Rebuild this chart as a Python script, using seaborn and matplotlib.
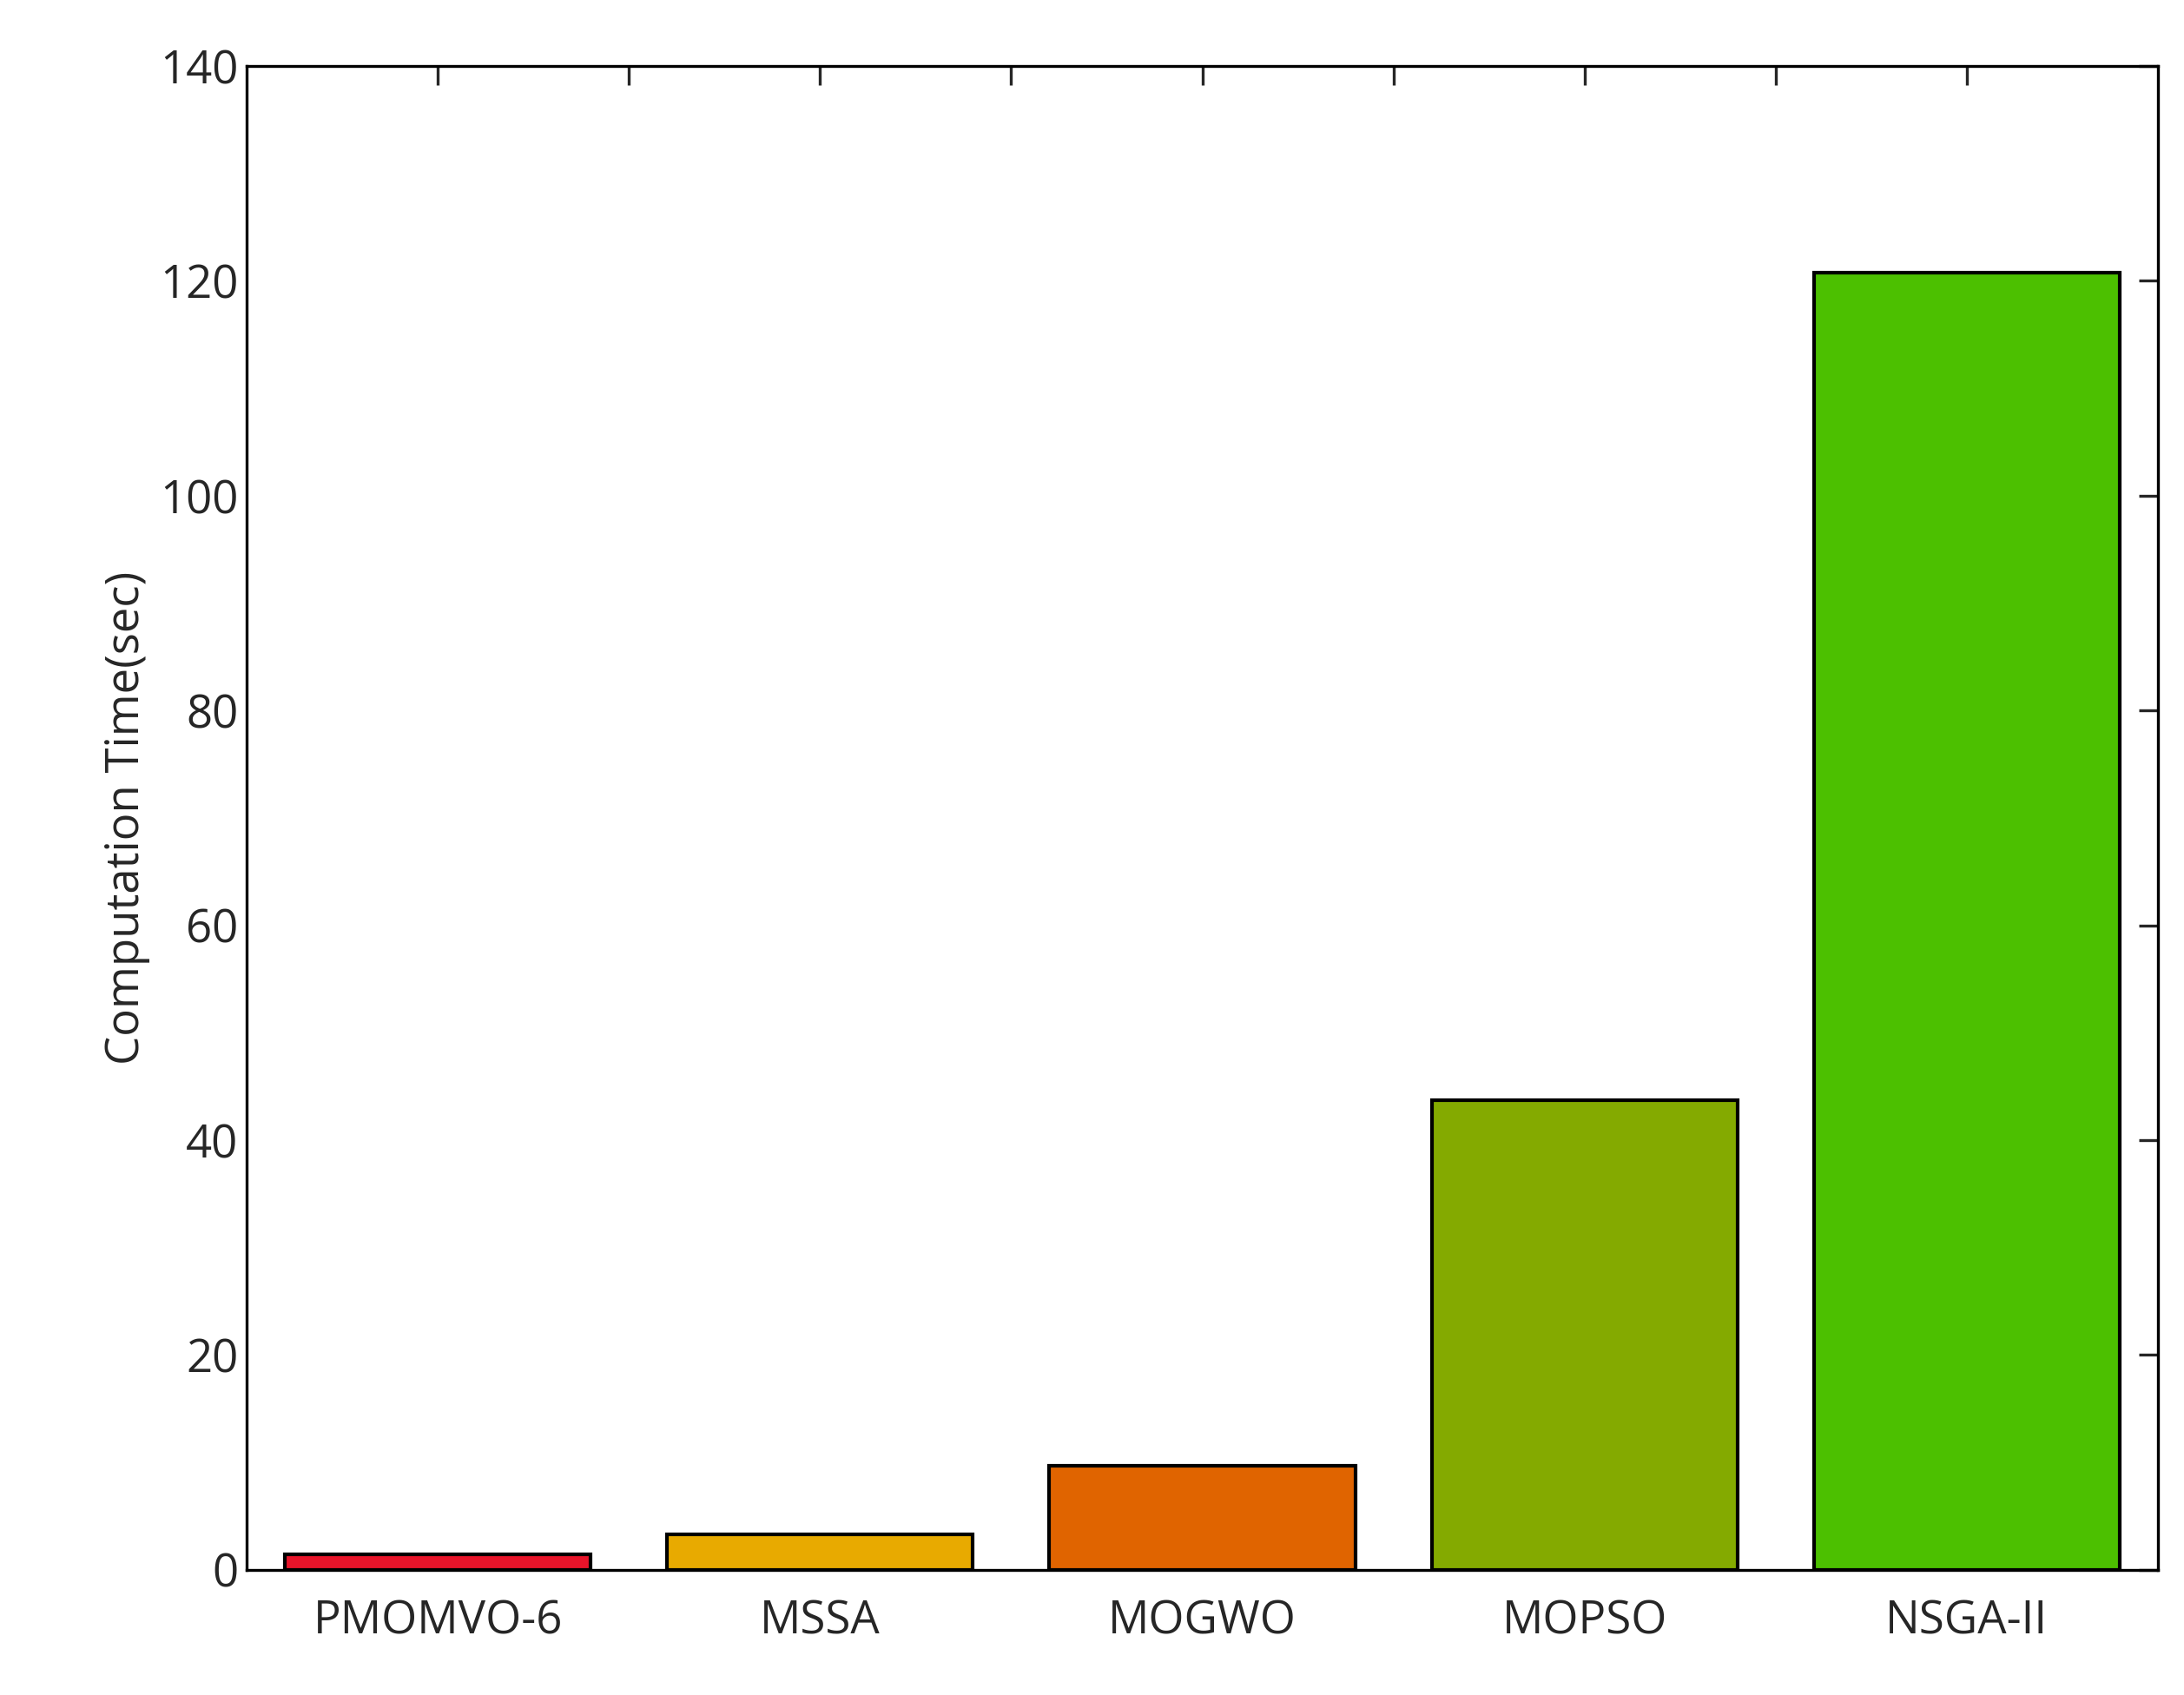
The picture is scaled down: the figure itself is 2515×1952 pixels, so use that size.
import matplotlib
matplotlib.use("Agg")
import matplotlib.pyplot as plt
import seaborn as sns
import pandas as pd
from matplotlib.ticker import MultipleLocator, FixedLocator

algorithms = ["PMOMVO-6", "MSSA", "MOGWO", "MOPSO", "NSGA-II"]
times = [1.4, 3.3, 9.7, 43.7, 120.8]
colors = ["#e8142a", "#e8aa00", "#e06400", "#84aa00", "#4cc000"]

sns.set_style("white")
plt.rcParams['font.family'] = ['Open Sans', 'DejaVu Sans']

df = pd.DataFrame({"alg": algorithms, "t": times})
fig = plt.figure(figsize=(12.575, 9.76), dpi=200)
ax = fig.add_axes([0.113, 0.074, 0.875, 0.887])
sns.barplot(data=df, x="alg", y="t", hue="alg", palette=colors, legend=False,
            width=0.8, edgecolor="black", linewidth=1.5, ax=ax, saturation=1)
ax.set_xlim(-0.5, 4.5)
ax.set_ylim(0, 140)
ax.yaxis.set_major_locator(MultipleLocator(20))
ax.xaxis.set_minor_locator(FixedLocator([0.5, 1.5, 2.5, 3.5]))
ax.tick_params(which="both", direction="in", top=True, right=True, length=8, width=1.2, labelsize=19)
ax.tick_params(axis="x", pad=12)
for s in ax.spines.values():
    s.set_linewidth(1.2)
    s.set_color("black")
ax.set_xlabel("")
ax.set_ylabel("Computation Time(sec)", fontsize=19)
fig.savefig("out.png", dpi=200)
